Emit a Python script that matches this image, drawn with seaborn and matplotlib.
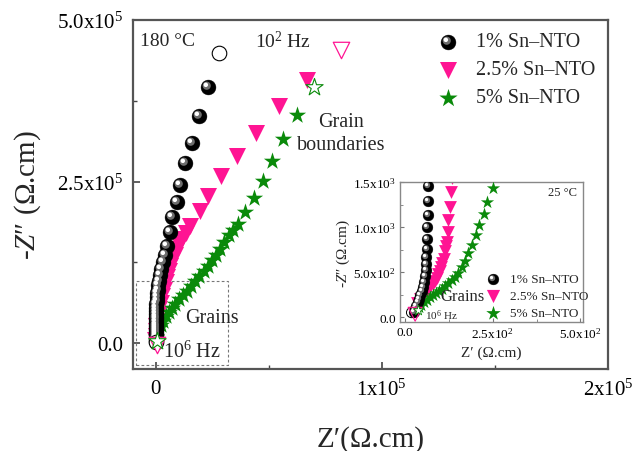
import numpy as np
import pandas as pd
import matplotlib
matplotlib.use("Agg")
import matplotlib.pyplot as plt
import seaborn as sns
from matplotlib.markers import MarkerStyle
from matplotlib.transforms import Affine2D
from matplotlib.patches import Rectangle

# ---------------- data (main plot, 180 C) ----------------
labels = ["1% Sn\u2013NTO", "2.5% Sn\u2013NTO", "5% Sn\u2013NTO"]

sn1_x = [23.3e3, 19.4e3, 15.9e3, 13.2e3, 11.0e3, 9.5e3, 7.3e3, 6.3e3, 5.1e3, 4.0e3, 3.4e3, 2.5e3,
         1.9e3, 1.5e3, 1.1e3, 0.9e3, 0.7e3, 0.55e3, 0.45e3, 0.35e3, 0.3e3, 0.25e3, 0.2e3, 0.17e3,
         0.14e3, 0.12e3, 0.1e3, 0.08e3, 0.06e3, 0.05e3, 0.04e3, 0.03e3, 0.02e3, 0.015e3, 0.01e3, 0.005e3]
sn1_y = [396e3, 351e3, 310e3, 278e3, 245e3, 218e3, 195e3, 172e3, 151e3, 136e3, 125e3, 115e3,
         105e3, 97e3, 90e3, 83e3, 77e3, 71e3, 65e3, 60e3, 55e3, 50e3, 45e3, 41e3,
         37e3, 33e3, 29e3, 25e3, 22e3, 19e3, 16e3, 13e3, 10e3, 8e3, 6e3, 4e3]
sn1_open = ([28.2e3, 0.0], [449e3, 2e3])

sn25_x = [67e3, 54.6e3, 44.5e3, 36e3, 29e3, 23.3e3, 19.5e3, 15.4e3, 13.5e3, 11.7e3, 10.5e3, 9.5e3,
          8.4e3, 7.3e3, 6.6e3, 5.9e3, 5.1e3, 4.4e3, 3.6e3, 2.9e3, 2.2e3, 1.5e3, 1.0e3, 0.6e3,
          0.3e3, 0.1e3, 0.0, -0.1e3]
sn25_y = [407e3, 366e3, 325e3, 289e3, 259e3, 228e3, 205e3, 182e3, 171e3, 161e3, 153e3, 146e3,
          137e3, 128e3, 120e3, 112e3, 103e3, 94e3, 83e3, 73e3, 63e3, 53e3, 44e3, 35e3,
          27e3, 19e3, 11e3, 5e3]
sn25_open = ([81.9e3, 0.5e3], [453e3, -2e3])

sn5_x = [62.4e3, 56.4e3, 51.5e3, 47.3e3, 43.3e3, 39.6e3, 36.4e3, 34.3e3, 32.3e3, 30.4e3, 28.6e3,
         26.8e3, 25.0e3, 23.1e3, 21.3e3, 19.4e3, 17.6e3, 15.7e3, 13.9e3, 12.1e3, 10.3e3, 8.8e3,
         7.3e3, 5.8e3, 4.4e3, 3.3e3, 2.2e3, 1.4e3, 0.7e3, 0.3e3]
sn5_y = [353e3, 315e3, 281e3, 251e3, 225e3, 203e3, 184e3, 175e3, 167e3, 156e3, 146e3,
         137e3, 128e3, 120e3, 112e3, 104e3, 97e3, 89e3, 81e3, 74e3, 68e3, 61e3,
         55e3, 48e3, 42e3, 35e3, 29e3, 23e3, 17e3, 10e3]
sn5_open = ([70e3, 0.8e3], [396e3, 3e3])

# ---------------- data (inset, 25 C) ----------------
in1_x = [67, 66, 65, 64, 63, 62, 61, 60, 59, 57, 55, 52, 48, 44, 40, 36, 32, 28, 25]
in1_y = [1452, 1285, 1133, 996, 867, 760, 670, 590, 520, 455, 395, 340, 290, 245, 205, 165, 130, 95, 60]
in25_x = [133, 131, 127, 124, 122, 120, 117, 114, 110, 106, 103, 99, 95, 91, 86, 79, 71, 62, 52, 43, 35]
in25_y = [1540, 1385, 1219, 1078, 948, 837, 785, 737, 644, 600, 552, 515, 478, 440, 404, 365, 330, 283, 237, 200, 163]
in5_x = [252, 235, 226, 211, 202, 190, 181, 172, 162, 152, 142, 133, 124, 115, 106, 97, 88, 79, 71, 63, 55, 47, 40]
in5_y = [1430, 1281, 1144, 1022, 911, 800, 711, 626, 552, 496, 450, 410, 375, 343, 315, 290, 270, 245, 220, 195, 170, 140, 110]
in_open_x = [19, 29, 38]
in_open_y = [52, 33, 81]

main_xticks = [0, 1e5, 2e5]
main_xticklabels = ["0", "1x10$^5$", "2x10$^5$"]
main_yticks = [0, 2.5e5, 5e5]
main_yticklabels = ["0.0", "2.5x10$^5$", "5.0x10$^5$"]
in_xticks = [0, 250, 500]
in_xticklabels = ["0.0", "2.5x10$^2$", "5.0x10$^2$"]
in_yticks = [0, 500, 1000, 1500]
in_yticklabels = ["0.0", "5.0x10$^2$", "1.0x10$^3$", "1.5x10$^3$"]

# ---------------- style ----------------
sns.set_theme(style="ticks")
plt.rcParams["font.family"] = ["Liberation Serif", "DejaVu Serif"]
plt.rcParams["mathtext.fontset"] = "custom"
plt.rcParams["mathtext.rm"] = "Liberation Serif"
plt.rcParams["mathtext.it"] = "Liberation Serif:italic"
plt.rcParams["mathtext.default"] = "regular"

BLACK = "#000000"
PINK = "#ff1493"
GREEN = "#0a8a0a"

fig = plt.figure(figsize=(6.36, 4.52), dpi=100)
ax = fig.add_axes([0.209, 0.181, 0.747, 0.773])

gray_hl = MarkerStyle("o", transform=Affine2D().scale(0.55).translate(-0.12, 0.12))
white_hl = MarkerStyle("o", transform=Affine2D().scale(0.3).translate(-0.18, 0.18))


def spheres(a, x, y, s, **kw):
    d = pd.DataFrame({"x": x, "y": y})
    sns.scatterplot(data=d, x="x", y="y", ax=a, color=BLACK, s=s, marker="o",
                    edgecolor=BLACK, linewidth=0.3, legend=False, zorder=3, **kw)
    sns.scatterplot(data=d, x="x", y="y", ax=a, color="#6e6e6e", s=s, marker=gray_hl,
                    linewidth=0, legend=False, zorder=3.1, **kw)
    sns.scatterplot(data=d, x="x", y="y", ax=a, color="white", s=s, marker=white_hl,
                    linewidth=0, legend=False, zorder=3.2, **kw)


def tris(a, x, y, s, **kw):
    d = pd.DataFrame({"x": x, "y": y})
    sns.scatterplot(data=d, x="x", y="y", ax=a, color=PINK, s=s, marker="v",
                    linewidth=0, legend=False, zorder=2.5, **kw)


def stars(a, x, y, s, **kw):
    d = pd.DataFrame({"x": x, "y": y})
    sns.scatterplot(data=d, x="x", y="y", ax=a, color=GREEN, s=s, marker="*",
                    linewidth=0, legend=False, zorder=2.8, **kw)


def key(a, xm, xt, ys, sizes, fontsize):
    kw = dict(transform=a.transAxes, clip_on=False)
    spheres(a, [xm], [ys[0]], sizes[0], **kw)
    tris(a, [xm], [ys[1]], sizes[1], **kw)
    stars(a, [xm], [ys[2]], sizes[2], **kw)
    for yy, lab in zip(ys, labels):
        a.text(xt, yy, lab, transform=a.transAxes, fontsize=fontsize, va="center", ha="left")


# main series
tris(ax, sn25_x, sn25_y, 150)
stars(ax, sn5_x, sn5_y, 170)
spheres(ax, sn1_x, sn1_y, 115)
ax.scatter(sn1_open[0], sn1_open[1], s=110, marker="o", facecolor="white", edgecolor=BLACK, lw=0.8, zorder=4)
ax.scatter(sn25_open[0], sn25_open[1], s=140, marker="v", facecolor="white", edgecolor=PINK, lw=0.9, zorder=4)
ax.scatter(sn5_open[0], sn5_open[1], s=170, marker="*", facecolor="white", edgecolor=GREEN, lw=0.8, zorder=4)

ax.set_xlim(-1e4, 2e5)
ax.set_ylim(-4e4, 5e5)
ax.set_xticks(main_xticks)
ax.set_xticklabels(main_xticklabels)
ax.set_yticks(main_yticks)
ax.set_yticklabels(main_yticklabels)
ax.set_xticks([5e4, 1.5e5], minor=True)
ax.set_yticks([1.25e5, 3.75e5], minor=True)
ax.tick_params(which="both", direction="in", bottom=True, left=True, top=False, right=False,
               colors="#444444", labelcolor="black", labelsize=15)
ax.tick_params(which="major", length=5, width=1.2, pad=7)
ax.tick_params(which="minor", length=3, width=1.0)
for sp in ax.spines.values():
    sp.set_color("#555555")
    sp.set_linewidth(1.6)
ax.set_xlabel("Z\u2032(\u03a9.cm)", fontsize=21, labelpad=18)
ax.set_ylabel("-$\\mathit{Z}$\u2033 (\u03a9.cm)", fontsize=21, labelpad=10)

ax.add_patch(Rectangle((-8.8e3, -3.3e4), 40.8e3, 12.9e4, fill=False, ls=(0, (2.5, 2)),
                       ec="#777777", lw=0.8, zorder=1))

ax.text(0.015, 0.94, "180 \u00b0C", transform=ax.transAxes, fontsize=14, va="center", ha="left")
ax.text(0.257, 0.94, "10$^2$ Hz", transform=ax.transAxes, fontsize=14, va="center", ha="left")
ax.text(0.438, 0.676, "Grain\nboundaries", transform=ax.transAxes, fontsize=14.5, va="center",
        ha="center", multialignment="center", linespacing=1.25)
ax.text(0.166, 0.149, "Grains", transform=ax.transAxes, fontsize=14.5, va="center", ha="center")
ax.text(0.063, 0.052, "10$^6$ Hz", transform=ax.transAxes, fontsize=14.5, va="center", ha="left")

key(ax, 0.663, 0.722, [0.937, 0.857, 0.777], [115, 150, 190], 14.5)

# ---------------- inset ----------------
ax2 = fig.add_axes([0.629, 0.285, 0.288, 0.31])
tris(ax2, in25_x, in25_y, 85)
stars(ax2, in5_x, in5_y, 100)
spheres(ax2, in1_x, in1_y, 60)
ax2.scatter([in_open_x[0]], [in_open_y[0]], s=55, marker="o", facecolor="none", edgecolor=BLACK, lw=0.7, zorder=4)
ax2.scatter([in_open_x[1]], [in_open_y[1]], s=100, marker="v", facecolor="none", edgecolor=PINK, lw=0.8, zorder=4)
ax2.scatter([in_open_x[2]], [in_open_y[2]], s=60, marker="*", facecolor="white", edgecolor=GREEN, lw=0.6, zorder=4)

ax2.set_xlim(-14, 508)
ax2.set_ylim(-55, 1500)
ax2.set_xticks(in_xticks)
ax2.set_xticklabels(in_xticklabels)
ax2.set_yticks(in_yticks)
ax2.set_yticklabels(in_yticklabels)
ax2.set_xticks([125, 375], minor=True)
ax2.set_yticks([250, 750, 1250], minor=True)
ax2.tick_params(which="both", direction="in", bottom=True, left=True, top=False, right=False,
                colors="#777777", labelcolor="black", labelsize=9.5)
ax2.tick_params(which="major", length=3, width=0.8, pad=3)
ax2.tick_params(which="minor", length=2, width=0.6)
for sp in ax2.spines.values():
    sp.set_color("#888888")
    sp.set_linewidth(1.0)
ax2.set_xlabel("Z\u2032 (\u03a9.cm)", fontsize=11, labelpad=3)
ax2.set_ylabel("-$\\mathit{Z}$\u2033 (\u03a9.cm)", fontsize=11, labelpad=1)

ax2.text(0.967, 0.93, "25 \u00b0C", transform=ax2.transAxes, fontsize=9, va="center", ha="right")
ax2.text(0.34, 0.186, "Grains", transform=ax2.transAxes, fontsize=12, va="center", ha="center")
ax2.text(0.137, 0.05, "10$^6$ Hz", transform=ax2.transAxes, fontsize=8, va="center", ha="left")

key(ax2, 0.508, 0.60, [0.307, 0.186, 0.064], [60, 90, 120], 9.5)

fig.savefig("out.png", dpi=100)
